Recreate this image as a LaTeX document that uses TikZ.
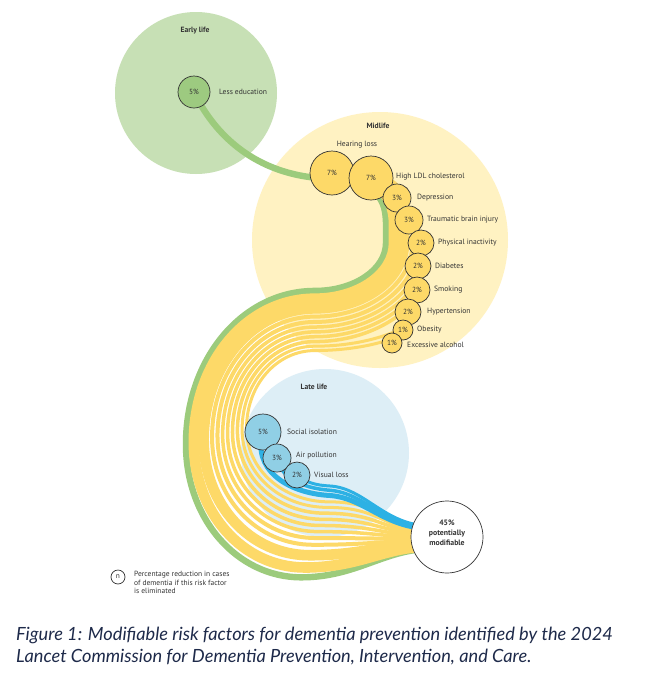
\documentclass[tikz,border=0pt]{standalone}
\usepackage{fontspec}
\setmainfont{PT Sans}
\newfontfamily\capfont{Lato}
\definecolor{earlybg}{HTML}{C7E0B5}
\definecolor{midbg}{HTML}{FFF2C2}
\definecolor{latebg}{HTML}{DDEEF6}
\definecolor{gstream}{HTML}{9CCB7C}
\definecolor{gcircle}{HTML}{9DCA80}
\definecolor{ystream}{HTML}{FDD968}
\definecolor{ycircle}{HTML}{FDD968}
\definecolor{bstream}{HTML}{2DB1E4}
\definecolor{bcircle}{HTML}{90CFE5}
\definecolor{edgecol}{HTML}{333333}
\definecolor{txtcol}{HTML}{333333}
\definecolor{capcol}{HTML}{1E2A4A}
\pgfdeclarelayer{backdrop}
\pgfdeclarelayer{flows}
\pgfsetlayers{backdrop,flows,main}
\newcommand\zzkap{0.56}
% #1 offset d, #2 width, #3 colour, #4 prefix, #5 start angle, #6 centre y of first bend, #7 x radius of first bend
\newcommand\flow[7]{%
 \pgfmathsetmacro\zzt{#1/66}%
 \pgfmathsetmacro\zzJ{288+64*\zzt}%
 \pgfmathsetmacro\zzRy{\zzJ-#6}%
 \pgfmathsetmacro\zzSx{315+#7*cos(#5)}%
 \pgfmathsetmacro\zzSy{#6+\zzRy*sin(#5)}%
 \pgfmathsetmacro\zzLx{183+65*\zzt}%
 \pgfmathsetmacro\zzLy{445-17*\zzt}%
 \pgfmathsetmacro\zzBx{300+30*\zzt}%
 \pgfmathsetmacro\zzBy{581-81*\zzt}%
 \pgfmathsetmacro\zzAx{315-\zzkap*(315-\zzLx)}%
 \pgfmathsetmacro\zzAy{\zzLy-\zzkap*(\zzLy-\zzJ)}%
 \pgfmathsetmacro\zzCy{\zzLy+\zzkap*(\zzBy-\zzLy)}%
 \pgfmathsetmacro\zzCx{\zzBx-\zzkap*(\zzBx-\zzLx)}%
 \pgfmathsetmacro\zzTy{549-0.312*(#1-3)}%
 \pgfmathsetmacro\zzDx{\zzBx+55}%
 \draw[line width=#2, draw=#3, line join=round] #4 (\zzSx,\zzSy)
   arc[start angle=#5, end angle=90, x radius=#7, y radius=\zzRy]
   .. controls (\zzAx,\zzJ) and (\zzLx,\zzAy) .. (\zzLx,\zzLy)
   .. controls (\zzLx,\zzCy) and (\zzCx,\zzBy) .. (\zzBx,\zzBy)
   .. controls (\zzDx,\zzBy) and (385,\zzTy) .. (430,\zzTy);
}
\begin{document}
\begin{tikzpicture}[x=1pt,y=-1pt,
  lbl/.style={font=\fontsize{7.6}{9}\selectfont, text=txtcol, anchor=west, inner sep=0pt},
  hdr/.style={font=\bfseries\fontsize{7.6}{9}\selectfont, text=txtcol, inner sep=0pt},
  rc/.style={circle, draw=edgecol, line width=0.7pt, inner sep=0pt, text=txtcol, font=\fontsize{7.4}{8}\selectfont},
  gc/.style={rc, fill=gcircle},
  yc/.style={rc, fill=ycircle},
  bc/.style={rc, fill=bcircle},
  captxt/.style={anchor=base west, inner sep=0pt, text=capcol, font=\capfont\itshape\fontsize{18.2}{20}\selectfont}]
\useasboundingbox (0,0) rectangle (661,681);
\begin{pgfonlayer}{backdrop}
  \fill[white] (0,0) rectangle (661,681);
  \fill[earlybg] (196,93) circle[radius=81];
  \fill[midbg] (380,240) circle[radius=128];
  \fill[latebg] (325,453) circle[radius=84];
\end{pgfonlayer}
% headings
\node[hdr] (hearly) at (195,31) {Early life};
\node[hdr] (hmid) at (378,126) {Midlife};
\node[hdr] (hlate) at (314,387) {Late life};
% early life
\node[gc, minimum size=32pt] (edu) at (194,92) {5\%};
\node[lbl] (tedu) at (219,92) {Less education};
% midlife
\node[yc, minimum size=44pt] (hear) at (332,173) {7\%};
\node[yc, minimum size=44pt] (ldl) at (371,178) {7\%};
\node[yc, minimum size=28pt] (dep) at (397,198) {3\%};
\node[yc, minimum size=28pt] (tbi) at (409,220) {3\%};
\node[yc, minimum size=26pt] (pin) at (421,243) {2\%};
\node[yc, minimum size=26pt] (dia) at (418,266) {2\%};
\node[yc, minimum size=26pt] (smk) at (417,290) {2\%};
\node[yc, minimum size=26pt] (hyp) at (408,312) {2\%};
\node[yc, minimum size=20pt] (obs) at (403,330) {1\%};
\node[yc, minimum size=20pt] (alc) at (392,343) {1\%};
\node[lbl, anchor=center] (thear) at (357,145) {Hearing loss};
\node[lbl] (tldl) at (396,177) {High LDL cholesterol};
\node[lbl] (tdep) at (417,198) {Depression};
\node[lbl] (ttbi) at (427,220) {Traumatic brain injury};
\node[lbl] (tpin) at (438,243) {Physical inactivity};
\node[lbl] (tdia) at (435,266) {Diabetes};
\node[lbl] (tsmk) at (434,290) {Smoking};
\node[lbl] (thyp) at (427,312) {Hypertension};
\node[lbl] (tobs) at (417,330) {Obesity};
\node[lbl] (talc) at (407,345) {Excessive alcohol};
% late life
\node[bc, minimum size=36pt] (soc) at (263,432) {5\%};
\node[bc, minimum size=28pt] (air) at (277,458) {3\%};
\node[bc, minimum size=26pt] (vis) at (297,475) {2\%};
\node[lbl] (tsoc) at (287,432) {Social isolation};
\node[lbl] (tair) at (296,456) {Air pollution};
\node[lbl] (tvis) at (314,475) {Visual loss};
% total
\node[rc, fill=white, minimum size=72pt] (tot) at (447,537) {};
\node[align=center, inner sep=0pt, text=txtcol, font=\bfseries\fontsize{7.8}{10}\selectfont] (ttot) at (447,533) {45\%\\potentially\\modifiable};
% legend
\node[rc, fill=white, minimum size=14pt] (leg) at (118,577) {n};
\node[lbl, anchor=north west, align=left, font=\fontsize{7.5}{8.6}\selectfont] (tleg) at (134,571) {Percentage reduction in cases\\of dementia if this risk factor\\is eliminated};
% caption
\node[captxt] (cap1) at (16,640) {Figure 1: Modifiable risk factors for dementia prevention identified by the 2024};
\node[captxt] (cap2) at (16,662) {Lancet Commission for Dementia Prevention, Intervention, and Care.};
% flows
\begin{pgfonlayer}{flows}
\flow{3}{6.4}{gstream}{(edu.center) .. controls (212,130) and (250,172) .. (318,178) .. controls (372,182) and (386,192) .. (386,225) --}{0}{243}{71}
\flow{11}{10.6}{ystream}{(hear.center) .. controls (372,176) and (394,190) .. (394,225) --}{0}{243}{79}
\flow{21}{10.6}{ystream}{(ldl.center) .. controls (396,180) and (404,195) .. (404,225) --}{0}{243}{89}
\flow{29.5}{4}{ystream}{(dep.center) .. controls (404,205) and (412.5,212) .. (412.5,228) --}{0}{243}{97.5}
\flow{35}{4}{ystream}{(tbi.center) .. controls (415,220) and (418,224) .. (418,232) --}{0}{243}{103}
\flow{40.25}{3.5}{ystream}{}{0}{243}{108.25}
\flow{45.25}{3.5}{ystream}{}{15}{243}{113.25}
\flow{50.25}{3.5}{ystream}{}{30}{243}{118.25}
\flow{55.25}{3.5}{ystream}{}{42}{243}{123.25}
\flow{60}{3}{ystream}{}{46.6}{280}{128}
\flow{64.5}{3}{ystream}{}{50}{300}{120}
\draw[line width=5pt, draw=bstream] (soc.center) .. controls (252,468) and (285,493) .. (330,495.5) .. controls (365,498) and (385,528.4) .. (430,528.4);
\draw[line width=3.5pt, draw=bstream] (air.center) .. controls (280,476) and (300,488) .. (330,490.3) .. controls (365,493) and (385,527) .. (430,527);
\draw[line width=3pt, draw=bstream] (vis.center) .. controls (305,482) and (315,485.3) .. (330,486) .. controls (365,488) and (385,525.8) .. (430,525.8);
\end{pgfonlayer}
\end{tikzpicture}
\end{document}
